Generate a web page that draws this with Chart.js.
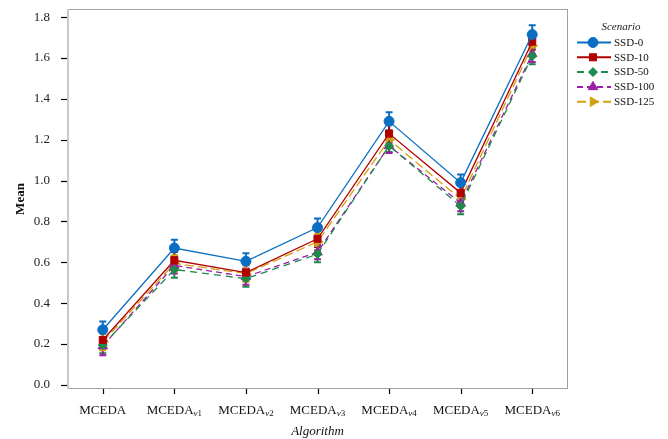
<!DOCTYPE html>
<html>
<head>
<meta charset="utf-8">
<script src="https://cdn.jsdelivr.net/npm/chart.js@4/dist/chart.umd.min.js"></script>
<style>
  html, body { margin: 0; padding: 0; background: #fff; }
  #wrap { width: 668px; height: 439px; }
</style>
</head>
<body>
<div id="wrap"><canvas id="c" width="668" height="439"></canvas></div>
<script>
// Algorithm variants: base name + subscript
const categories = ['MCEDA', 'MCEDA', 'MCEDA', 'MCEDA', 'MCEDA', 'MCEDA', 'MCEDA'];
const subscripts = ['', 'v1', 'v2', 'v3', 'v4', 'v5', 'v6'];
const yTicks = [0.0, 0.2, 0.4, 0.6, 0.8, 1.0, 1.2, 1.4, 1.6, 1.8];

// Mean per scenario
const ssd0   = [0.27, 0.67, 0.605, 0.77, 1.29, 0.99, 1.715];
const ssd10  = [0.22, 0.61, 0.55, 0.715, 1.23, 0.94, 1.68];
const ssd50  = [0.195, 0.565, 0.52, 0.64, 1.17, 0.875, 1.61];
const ssd100 = [0.19, 0.585, 0.53, 0.65, 1.17, 0.89, 1.62];
const ssd125 = [0.21, 0.595, 0.545, 0.70, 1.20, 0.91, 1.66];

// Half-width of the error bars
const err0   = [0.04, 0.04, 0.04, 0.045, 0.045, 0.04, 0.045];
const err10  = [0.04, 0.04, 0.04, 0.04, 0.045, 0.04, 0.04];
const err50  = [0.04, 0.04, 0.04, 0.04, 0.03, 0.04, 0.04];
const err100 = [0.045, 0.04, 0.04, 0.035, 0.035, 0.04, 0.04];
const err125 = [0.04, 0.04, 0.04, 0.04, 0.04, 0.04, 0.04];

const SERIF = "'Liberation Serif', 'Times New Roman', serif";

const series = [
  { label: 'SSD-0',   data: ssd0,   err: err0,   color: '#0a6fc2', dash: [],     style: 'circle',  r: 5,   rot: 0 },
  { label: 'SSD-10',  data: ssd10,  err: err10,  color: '#b00000', dash: [],     style: 'rect',    r: 5,   rot: 0 },
  { label: 'SSD-50',  data: ssd50,  err: err50,  color: '#1f8a4c', dash: [7, 5], style: 'rectRot', r: 4.5, rot: 0 },
  { label: 'SSD-100', data: ssd100, err: err100, color: '#9a1fa6', dash: [6, 4], style: 'triangle',r: 5.5, rot: 0 },
  { label: 'SSD-125', data: ssd125, err: err125, color: '#d4a010', dash: [9, 4], style: 'triangle',r: 5.5, rot: 90 }
];

const datasets = series.map(s => ({
  label: s.label,
  data: s.data,
  err: s.err,
  borderColor: s.color,
  backgroundColor: s.color,
  borderWidth: 1.3,
  borderDash: s.dash,
  pointStyle: s.style,
  pointRadius: s.r,
  pointRotation: s.rot,
  pointBorderWidth: 1,
  pointBackgroundColor: s.color,
  pointBorderColor: s.color,
  tension: 0,
  fill: false
}));

// Error bars, drawn before the lines and markers
const errorBars = {
  id: 'errorBars',
  beforeDatasetsDraw(chart) {
    const { ctx, scales: { x, y } } = chart;
    ctx.save();
    ctx.lineWidth = 2;
    chart.data.datasets.forEach((ds, di) => {
      if (!chart.isDatasetVisible(di)) return;
      ctx.strokeStyle = ds.borderColor;
      ds.data.forEach((v, i) => {
        const px = x.getPixelForValue(i);
        const top = y.getPixelForValue(v + ds.err[i]);
        const bot = y.getPixelForValue(v - ds.err[i]);
        ctx.beginPath();
        ctx.moveTo(px, top); ctx.lineTo(px, bot);
        ctx.moveTo(px - 3.5, top); ctx.lineTo(px + 3.5, top);
        ctx.moveTo(px - 3.5, bot); ctx.lineTo(px + 3.5, bot);
        ctx.stroke();
      });
    });
    ctx.restore();
  }
};

// Plot frame, tick marks, subscripted category labels and legend
const decorations = {
  id: 'decorations',
  afterDraw(chart) {
    const { ctx, chartArea: a, scales: { x, y } } = chart;
    ctx.save();
    // frame
    ctx.strokeStyle = '#a0a0a0';
    ctx.lineWidth = 1;
    ctx.strokeRect(a.left + 0.5, a.top + 0.5, a.right - a.left - 1, a.bottom - a.top - 1);
    ctx.strokeStyle = '#c8c8c8';
    ctx.lineWidth = 2;
    ctx.beginPath(); ctx.moveTo(a.left + 1, a.top); ctx.lineTo(a.left + 1, a.bottom); ctx.stroke();

    // tick marks
    ctx.strokeStyle = '#000';
    ctx.lineWidth = 1.2;
    yTicks.forEach(v => {
      const py = Math.round(y.getPixelForValue(v)) + 0.5;
      ctx.beginPath(); ctx.moveTo(a.left - 6, py); ctx.lineTo(a.left, py); ctx.stroke();
    });
    categories.forEach((c, i) => {
      const px = Math.round(x.getPixelForValue(i)) + 0.5;
      ctx.beginPath(); ctx.moveTo(px, a.bottom); ctx.lineTo(px, a.bottom + 5); ctx.stroke();
    });

    // category labels with subscripts
    ctx.fillStyle = '#111';
    ctx.textBaseline = 'alphabetic';
    ctx.textAlign = 'left';
    categories.forEach((c, i) => {
      const px = x.getPixelForValue(i);
      ctx.font = '13px ' + SERIF;
      const w1 = ctx.measureText(c).width;
      const sub = subscripts[i];
      let w2 = 0;
      if (sub) {
        ctx.font = 'italic 9px ' + SERIF;
        w2 = ctx.measureText(sub[0]).width;
        ctx.font = '9px ' + SERIF;
        w2 += ctx.measureText(sub.slice(1)).width;
      }
      const x0 = px - (w1 + w2) / 2;
      const by = a.bottom + 25;
      ctx.font = '13px ' + SERIF;
      ctx.fillText(c, x0, by);
      if (sub) {
        ctx.font = 'italic 9px ' + SERIF;
        ctx.fillText(sub[0], x0 + w1, by + 2);
        const wv = ctx.measureText(sub[0]).width;
        ctx.font = '9px ' + SERIF;
        ctx.fillText(sub.slice(1), x0 + w1 + wv, by + 2);
      }
    });

    // legend
    ctx.font = 'italic 11px ' + SERIF;
    ctx.textAlign = 'center';
    ctx.fillStyle = '#222';
    ctx.fillText('Scenario', 621, 30);
    chart.data.datasets.forEach((ds, i) => {
      const ly = 42.5 + i * 14.8;
      ctx.strokeStyle = ds.borderColor;
      ctx.fillStyle = ds.borderColor;
      ctx.lineWidth = 2;
      ctx.setLineDash(ds.borderDash);
      ctx.beginPath(); ctx.moveTo(577, ly); ctx.lineTo(611, ly); ctx.stroke();
      ctx.setLineDash([]);
      ctx.lineWidth = 1;
      Chart.helpers.drawPoint(ctx, {
        pointStyle: ds.pointStyle,
        radius: ds.pointRadius,
        rotation: ds.pointRotation,
        borderWidth: 1
      }, 593, ly);
      ctx.fillStyle = '#111';
      ctx.font = '11px ' + SERIF;
      ctx.textAlign = 'left';
      ctx.textBaseline = 'middle';
      ctx.fillText(ds.label, 614, ly + 0.5);
      ctx.textBaseline = 'alphabetic';
    });
    ctx.restore();
  }
};

new Chart(document.getElementById('c'), {
  type: 'line',
  data: { labels: categories.map((c, i) => c + subscripts[i]), datasets },
  options: {
    responsive: false,
    animation: false,
    layout: { padding: { top: 9, right: 100, bottom: 0, left: 13 } },
    plugins: { legend: { display: false }, tooltip: { enabled: false } },
    scales: {
      x: {
        offset: true,
        grid: { display: false },
        border: { display: false },
        ticks: { display: false },
        title: {
          display: true, text: 'Algorithm',
          font: { family: SERIF, size: 13, style: 'italic' }, color: '#111',
          padding: { top: 0, bottom: 0 }
        },
        afterFit(scale) { scale.height = 50; }
      },
      y: {
        min: -0.02,
        max: 1.84,
        grid: { display: false },
        border: { display: false },
        afterBuildTicks(scale) { scale.ticks = yTicks.map(v => ({ value: v })); },
        ticks: {
          padding: 9,
          color: '#222',
          font: { family: SERIF, size: 13 },
          callback: v => Number(v).toFixed(1)
        },
        title: {
          display: true, text: 'Mean',
          font: { family: SERIF, size: 13, weight: 'bold' }, color: '#111',
          padding: { top: 0, bottom: 4 }
        },
        afterFit(scale) {
          scale.width = 54;
          scale.paddingTop = 0;
          scale.paddingBottom = 0;
        }
      }
    }
  },
  plugins: [errorBars, decorations]
});
</script>
</body>
</html>
